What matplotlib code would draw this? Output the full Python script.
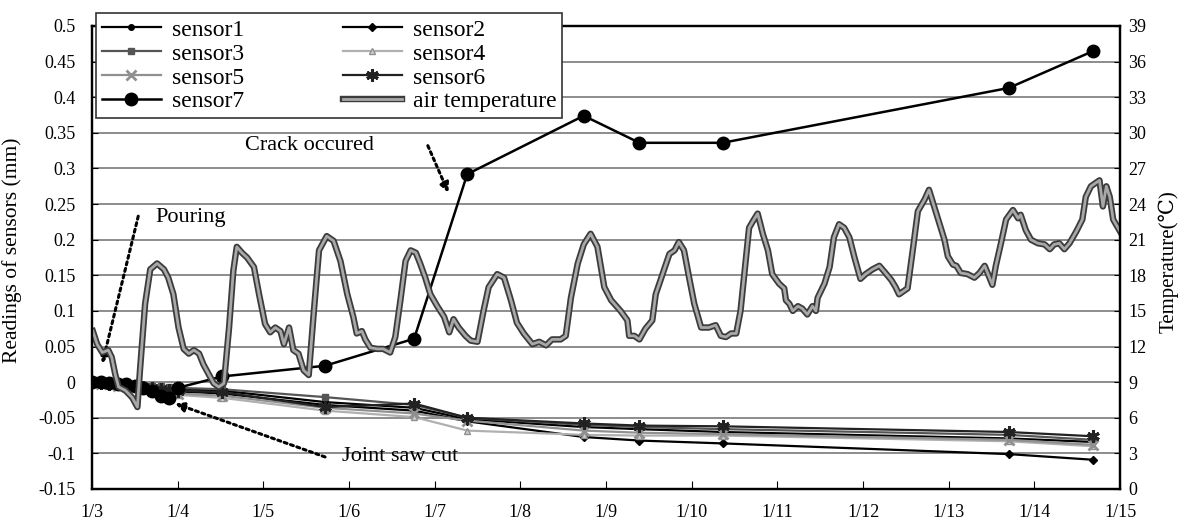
import numpy as np
import matplotlib.pyplot as plt
import matplotlib.patheffects as pe

plt.rcParams['font.family'] = ['Liberation Serif', 'DejaVu Serif', 'Noto Sans CJK SC']

# x axis = days since 1/3
date_labels = ['1/3', '1/4', '1/5', '1/6', '1/7', '1/8', '1/9', '1/10',
               '1/11', '1/12', '1/13', '1/14', '1/15']

# dense readings right after pouring
early_days = [0.0, 0.1, 0.2, 0.3, 0.4, 0.5, 0.6, 0.7, 0.8, 0.9, 1.0]
# later (sparse) readings
late_days = [1.52, 2.72, 3.76, 4.38, 5.74, 6.39, 7.36, 10.70, 11.69]

sensor1 = [0, -0.001, -0.002, -0.003, -0.004, -0.005, -0.006, -0.007, -0.008, -0.009, -0.010,
           -0.012, -0.028, -0.036, -0.052, -0.063, -0.066, -0.070, -0.079, -0.084]
sensor2 = [0, -0.002, -0.003, -0.004, -0.005, -0.006, -0.008, -0.009, -0.011, -0.012, -0.013,
           -0.016, -0.032, -0.040, -0.055, -0.077, -0.082, -0.086, -0.101, -0.109]
sensor3 = [0, -0.001, -0.001, -0.002, -0.003, -0.004, -0.004, -0.005, -0.006, -0.007, -0.008,
           -0.010, -0.021, -0.032, -0.050, -0.060, -0.063, -0.066, -0.074, -0.081]
sensor4 = [0, -0.002, -0.004, -0.005, -0.006, -0.008, -0.010, -0.012, -0.014, -0.016, -0.018,
           -0.022, -0.040, -0.049, -0.068, -0.074, -0.075, -0.075, -0.083, -0.090]
sensor5 = [0, -0.002, -0.003, -0.005, -0.006, -0.007, -0.009, -0.011, -0.013, -0.014, -0.016,
           -0.019, -0.036, -0.044, -0.054, -0.068, -0.071, -0.073, -0.081, -0.088]
sensor6 = [0, -0.001, -0.002, -0.003, -0.004, -0.005, -0.007, -0.008, -0.009, -0.011, -0.012,
           -0.014, -0.035, -0.030, -0.050, -0.058, -0.061, -0.062, -0.070, -0.076]
sensor7 = [0, 0.0, -0.001, -0.002, -0.003, -0.005, -0.008, -0.013, -0.019, -0.022, -0.008,
           0.008, 0.023, 0.061, 0.292, 0.374, 0.336, 0.336, 0.413, 0.465]

temp_day = [0.01, 0.06, 0.12, 0.19, 0.23, 0.27, 0.31, 0.39, 0.47, 0.53, 0.56, 0.62, 0.68, 0.76,
            0.84, 0.89, 0.95, 1.01, 1.07, 1.13, 1.19, 1.25, 1.30, 1.36, 1.42, 1.48, 1.54, 1.60,
            1.65, 1.69, 1.75, 1.81, 1.89, 1.95, 2.02, 2.08, 2.14, 2.20, 2.24, 2.30, 2.35, 2.41,
            2.47, 2.53, 2.59, 2.65, 2.74, 2.82, 2.90, 2.98, 3.05, 3.09, 3.15, 3.19, 3.25, 3.33,
            3.40, 3.48, 3.54, 3.60, 3.66, 3.72, 3.78, 3.83, 3.89, 3.95, 4.03, 4.11, 4.17, 4.22,
            4.28, 4.36, 4.42, 4.50, 4.57, 4.63, 4.73, 4.81, 4.89, 4.96, 5.04, 5.14, 5.22, 5.30,
            5.37, 5.47, 5.53, 5.59, 5.67, 5.74, 5.82, 5.90, 5.98, 6.06, 6.17, 6.25, 6.27, 6.33,
            6.39, 6.46, 6.54, 6.58, 6.66, 6.74, 6.80, 6.85, 6.91, 6.97, 7.03, 7.11, 7.20, 7.28,
            7.34, 7.40, 7.46, 7.52, 7.57, 7.67, 7.71, 7.77, 7.83, 7.89, 7.94, 8.02, 8.08, 8.10,
            8.14, 8.18, 8.24, 8.29, 8.35, 8.41, 8.45, 8.47, 8.55, 8.61, 8.66, 8.72, 8.78, 8.84,
            8.90, 8.97, 9.03, 9.11, 9.19, 9.25, 9.33, 9.38, 9.42, 9.52, 9.58, 9.64, 9.72, 9.77,
            9.83, 9.89, 9.95, 9.99, 10.05, 10.09, 10.14, 10.22, 10.30, 10.36, 10.42, 10.47,
            10.51, 10.55, 10.61, 10.67, 10.75, 10.81, 10.84, 10.90, 10.96, 11.04, 11.12, 11.18,
            11.23, 11.29, 11.35, 11.41, 11.49, 11.56, 11.60, 11.66, 11.76, 11.80, 11.84, 11.88,
            11.92, 12.0]
temp_val = [13.3, 12.2, 11.5, 11.7, 11.1, 9.7, 8.6, 8.3, 7.7, 6.9, 10.0, 15.6, 18.5, 19.0,
            18.5, 17.8, 16.4, 13.6, 11.8, 11.4, 11.7, 11.4, 10.5, 9.7, 8.9, 8.6, 8.9, 13.6,
            18.4, 20.4, 19.9, 19.5, 18.7, 16.4, 13.9, 13.2, 13.6, 13.3, 12.2, 13.6, 11.7, 11.4,
            10.0, 9.6, 15.0, 20.1, 21.3, 20.9, 19.2, 16.4, 14.5, 13.1, 13.3, 12.6, 11.9, 11.8,
            11.8, 11.5, 12.8, 15.9, 19.2, 20.1, 19.9, 19.0, 17.8, 16.4, 15.4, 14.5, 13.2, 14.3,
            13.6, 12.9, 12.5, 12.4, 15.0, 17.0, 18.1, 17.8, 15.9, 14.0, 13.1, 12.2, 12.4, 12.1,
            12.6, 12.6, 12.9, 16.1, 19.0, 20.6, 21.5, 20.4, 17.0, 15.9, 15.0, 14.2, 12.9, 12.9,
            12.6, 13.5, 14.2, 16.4, 18.1, 19.8, 20.1, 20.8, 20.1, 17.8, 15.6, 13.6, 13.6, 13.8,
            12.9, 12.8, 13.1, 13.1, 15.0, 22.0, 22.5, 23.2, 21.5, 20.1, 18.1, 17.3, 16.9, 15.9,
            15.6, 15.0, 15.4, 15.2, 14.7, 15.4, 15.0, 16.1, 17.3, 18.7, 21.2, 22.3, 22.0, 21.2,
            19.5, 17.7, 18.1, 18.5, 18.8, 18.3, 17.6, 17.0, 16.4, 16.9, 20.1, 23.4, 24.4, 25.2,
            23.8, 22.4, 21.0, 19.6, 18.9, 18.8, 18.2, 18.1, 17.8, 18.2, 18.8, 17.9,
            17.2, 18.8, 20.7, 22.7, 23.5, 22.8, 23.1, 21.8, 21.0, 20.7, 20.6, 20.2,
            20.6, 20.7, 20.2, 20.7, 21.7, 22.7, 24.6, 25.5, 26.0, 23.8, 25.5, 24.6,
            22.7, 21.7]

days = early_days + late_days

fig = plt.figure(figsize=(11.78, 5.24), dpi=100)
ax = fig.add_axes([0.0781, 0.0668, 0.8727, 0.8836])
ax2 = ax.twinx()

ax.set_xlim(0, 12)
ax.set_ylim(-0.15, 0.5)
ax2.set_ylim(0, 39)

yt = np.arange(-0.15, 0.501, 0.05)
ax.set_yticks(yt)
ax.set_yticklabels(['%g' % round(v, 2) for v in yt])
ax2.set_yticks(np.arange(0, 40, 3))
ax.set_xticks(range(13))
ax.set_xticklabels(date_labels)

for v in yt[1:-1]:
    ax.axhline(v, color='#6e6e6e', lw=1.1, zorder=0)

l1, = ax.plot(days, sensor1, color='black', lw=1.6, marker='o', ms=4, label='sensor1')
l2, = ax.plot(days, sensor2, color='black', lw=1.6, marker='D', ms=4, label='sensor2')
l3, = ax.plot(days, sensor3, color='#555555', lw=1.6, marker='s', ms=5, label='sensor3')
l4, = ax.plot(days, sensor4, color='#b0b0b0', lw=1.6, marker='^', ms=5,
              mfc='#d0d0d0', mec='#909090', label='sensor4')
l5, = ax.plot(days, sensor5, color='#909090', lw=1.6, marker='x', ms=7, mew=2, label='sensor5')
l6, = ax.plot(days, sensor6, color='#222222', lw=1.6, marker=(6, 2, 0), ms=9, mew=2.2, label='sensor6')
l7, = ax.plot(days, sensor7, color='black', lw=1.8, marker='o', ms=9, label='sensor7')

effects = [pe.Stroke(linewidth=4.6, foreground='#3c3c3c'), pe.Normal()]
lt, = ax2.plot(temp_day, temp_val, color='#a8a8a8', lw=2.0, label='air temperature',
               path_effects=effects)

for a in (ax, ax2):
    for s in a.spines.values():
        s.set_linewidth(1.6)
        s.set_color('black')
ax.tick_params(axis='x', direction='in', length=6, pad=11, labelsize=13)
ax.tick_params(axis='y', direction='in', length=4, pad=12, labelsize=13)
ax2.tick_params(axis='y', direction='in', length=4, pad=6, labelsize=13)

ax.set_ylabel('Readings of sensors (mm)', fontsize=15.5)
ax.yaxis.set_label_coords(-0.068, 0.515)
ax2.set_ylabel('Temperature(℃)', fontsize=15)
ax2.yaxis.set_label_coords(1.037, 0.49)

arrow = dict(arrowstyle='-|>', linestyle=(0, (1, 1.2)), lw=2.2, color='black',
             mutation_scale=14, shrinkA=0, shrinkB=0)
ax.annotate('', xy=(0.12, 0.026), xytext=(0.54, 0.233), arrowprops=arrow, zorder=6)
ax.text(0.74, 0.231, 'Pouring', fontsize=16, ha='left', va='center', zorder=6)
ax.annotate('', xy=(4.16, 0.266), xytext=(3.92, 0.332), arrowprops=arrow, zorder=6)
ax.text(2.54, 0.332, 'Crack occured', fontsize=16, ha='center', va='center', zorder=6)
ax.annotate('', xy=(0.97, -0.030), xytext=(2.72, -0.105), arrowprops=arrow, zorder=6)
ax.text(2.92, -0.105, 'Joint saw cut', fontsize=16, ha='left', va='center', zorder=6)

handles = [l1, l3, l5, l7, l2, l4, l6, lt]
leg = ax2.legend(handles=handles, ncol=2, loc='upper left',
                 bbox_to_anchor=(0.0815, 0.9746), bbox_transform=fig.transFigure,
                 borderaxespad=0, fontsize=17, frameon=True, fancybox=False, framealpha=1,
                 edgecolor='#333333', borderpad=0.25, labelspacing=0.1,
                 handlelength=2.5, handletextpad=0.45, columnspacing=4.2)
leg.get_frame().set_linewidth(1.2)

fig.savefig('out.png', dpi=100)
